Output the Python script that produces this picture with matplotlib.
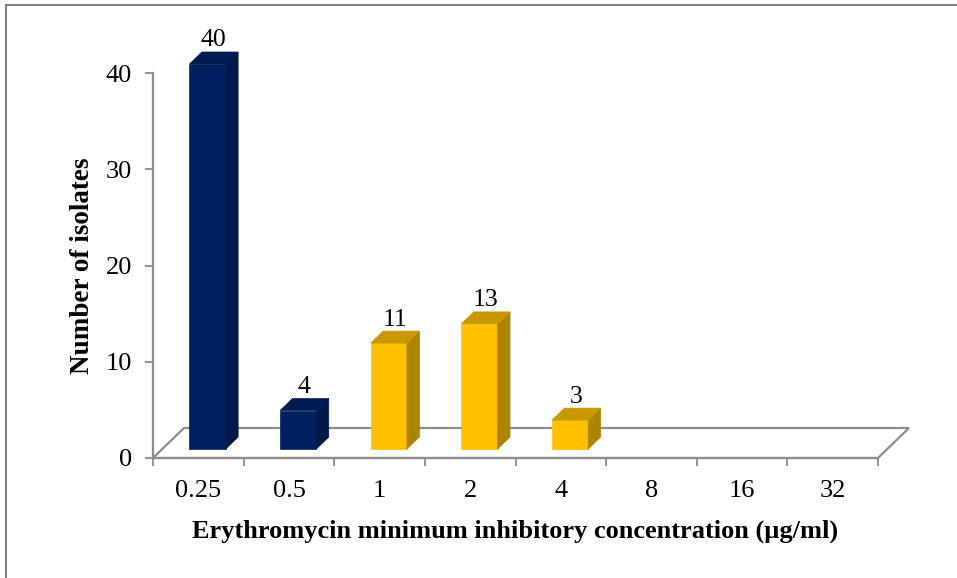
import matplotlib
matplotlib.use("Agg")
import matplotlib.pyplot as plt
from matplotlib.patches import Polygon
from matplotlib.lines import Line2D

# Data
mic_labels = ["0.25", "0.5", "1", "2", "4", "8", "16", "32"]
isolates = [40, 4, 11, 13, 3, 0, 0, 0]
susceptible = [True, True, False, False, False, False, False, False]

NAVY = ("#002060", "#00184A", "#001A52")    # front, side, top
GOLD = ("#FFC000", "#AE8300", "#C99800")
GRID_GRAY = "#8C8C8C"

plt.rcParams["font.family"] = ["Liberation Serif", "DejaVu Serif"]

W, H = 957, 578
fig = plt.figure(figsize=(W / 100, H / 100), dpi=100)
# front plane of the 3-D box
left_px, right_px, bottom_px, top_px = 153, 878, 458, 73
ax = fig.add_axes([left_px / W, (H - bottom_px) / H,
                   (right_px - left_px) / W, (bottom_px - top_px) / H])
n = len(mic_labels)
ymax = 40
ax.set_xlim(0, n)
ax.set_ylim(0, ymax)
ax.patch.set_visible(False)

# depth of the box expressed in data units
px_x = (right_px - left_px) / n
px_y = (bottom_px - top_px) / ymax
DX = 31 / px_x
DY = 30 / px_y

# floor
floor = Polygon([(0, 0), (n, 0), (n + DX, DY), (DX, DY)], closed=True,
                facecolor="white", edgecolor=GRID_GRAY, lw=1.6,
                clip_on=False, zorder=1)
ax.add_patch(floor)

bar_w = 0.4
f0, f1 = 0.3, 0.7   # bar front / back fraction of depth
for i, (v, s) in enumerate(zip(isolates, susceptible)):
    if v <= 0:
        continue
    front, side, top = NAVY if s else GOLD
    x0 = i + (1 - bar_w) / 2 + f0 * DX
    y0 = f0 * DY
    x1 = x0 + bar_w
    ddx = (f1 - f0) * DX
    ddy = (f1 - f0) * DY
    ax.bar(x0, v, width=bar_w, bottom=y0, align="edge", color=front,
           edgecolor=front, lw=0.5, zorder=3, clip_on=False)
    ax.add_patch(Polygon([(x1, y0), (x1 + ddx, y0 + ddy),
                          (x1 + ddx, y0 + v + ddy), (x1, y0 + v)],
                         closed=True, facecolor=side, edgecolor=side,
                         lw=0.5, zorder=3, clip_on=False))
    ax.add_patch(Polygon([(x0, y0 + v), (x1, y0 + v),
                          (x1 + ddx, y0 + v + ddy), (x0 + ddx, y0 + v + ddy)],
                         closed=True, facecolor=top, edgecolor=top,
                         lw=0.5, zorder=3, clip_on=False))
    ax.annotate(str(v), xy=((x0 + x1 + ddx) / 2, y0 + v + ddy),
                xytext=(0, 4), textcoords="offset points",
                ha="center", va="baseline", fontsize=18.5,
                annotation_clip=False)

# axes styling
for sp in ("top", "right"):
    ax.spines[sp].set_visible(False)
for sp in ("left", "bottom"):
    ax.spines[sp].set_color(GRID_GRAY)
    ax.spines[sp].set_linewidth(1.6)
    ax.spines[sp].set_zorder(2)

ax.set_yticks(range(0, ymax + 1, 10))
ax.tick_params(axis="y", direction="out", length=6, width=1.3,
               color=GRID_GRAY, labelsize=19, pad=9)

ax.set_xticks(range(0, n + 1))
ax.set_xticklabels([])
ax.set_xticks([i + 0.5 for i in range(n)], minor=True)
ax.set_xticklabels(mic_labels, minor=True)
ax.tick_params(axis="x", which="major", direction="out", length=6,
               width=1.3, color=GRID_GRAY)
ax.tick_params(axis="x", which="minor", length=0, labelsize=19, pad=16)

ax.set_ylabel("Number of isolates", fontsize=19.5, fontweight="bold")
ax.yaxis.set_label_coords(-0.097, 0.5)
ax.set_xlabel("Erythromycin minimum inhibitory concentration (µg/ml)",
              fontsize=19, fontweight="bold")
ax.xaxis.set_label_coords(0.5, -0.19)
ax.xaxis.label.set_va("center")
ax.yaxis.label.set_va("center")

# outer frame (top and left edges)
fig.add_artist(Line2D([6 / W, 6 / W], [0, 1 - 5 / H], transform=fig.transFigure,
                      color="#808080", lw=1.5))
fig.add_artist(Line2D([6 / W, 1], [1 - 5 / H, 1 - 5 / H], transform=fig.transFigure,
                      color="#808080", lw=1.5))

fig.savefig("out.png", dpi=100, facecolor="white")
